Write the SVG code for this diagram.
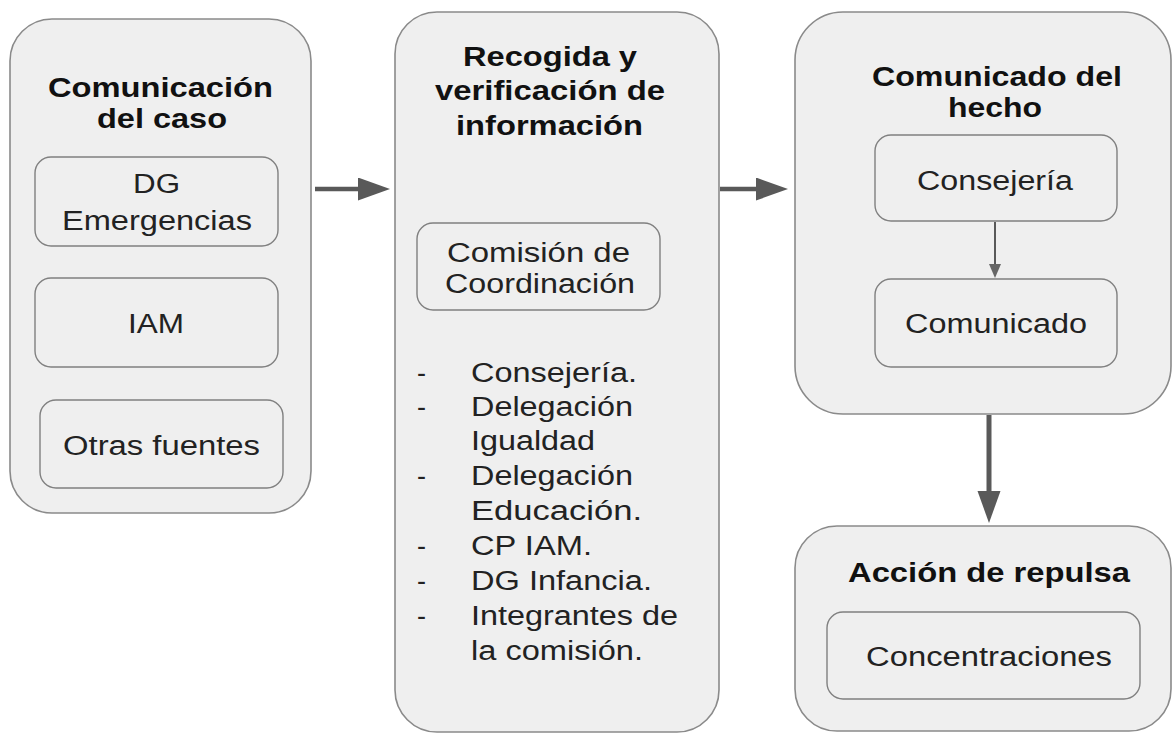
<svg xmlns="http://www.w3.org/2000/svg" width="1172" height="733" viewBox="0 0 1172 733">
<style>
.outer{fill:#efefef;stroke:#8a8a8a;stroke-width:1.6}
.inner{fill:#efefef;stroke:#808080;stroke-width:1.4}
.t{font-family:"Liberation Sans",Arial,sans-serif;font-size:27px;fill:#222}
.b{font-family:"Liberation Sans",Arial,sans-serif;font-size:27px;font-weight:bold;fill:#111}
.conn{stroke:#595959;fill:none}
</style>
<defs>
<marker id="big" markerUnits="userSpaceOnUse" markerWidth="34" markerHeight="24" refX="4" refY="11.5" orient="auto">
<path d="M0,0 L32,11.5 L0,23 z" fill="#595959"/>
</marker>
<marker id="small" markerUnits="userSpaceOnUse" markerWidth="16" markerHeight="14" refX="2" refY="6" orient="auto">
<path d="M0,0 L14,6 L0,12 z" fill="#666"/>
</marker>
</defs>
<rect width="1172" height="733" fill="#ffffff"/>

<g id="comunicacion">
<rect class="outer" x="10" y="19" width="301" height="494" rx="42"/>
<text class="b" x="48" y="97" textLength="225" lengthAdjust="spacingAndGlyphs">Comunicación</text>
<text class="b" x="97" y="128" textLength="130" lengthAdjust="spacingAndGlyphs">del caso</text>
</g>
<g id="dg-emergencias">
<rect class="inner" x="35" y="157" width="243" height="89" rx="16"/>
<text class="t" x="133" y="193" textLength="47" lengthAdjust="spacingAndGlyphs">DG</text>
<text class="t" x="62" y="230" textLength="190" lengthAdjust="spacingAndGlyphs">Emergencias</text>
</g>
<g id="iam">
<rect class="inner" x="35" y="278" width="243" height="89" rx="16"/>
<text class="t" x="128" y="333" textLength="56" lengthAdjust="spacingAndGlyphs">IAM</text>
</g>
<g id="otras-fuentes">
<rect class="inner" x="40" y="400" width="243" height="88" rx="16"/>
<text class="t" x="63" y="455" textLength="197" lengthAdjust="spacingAndGlyphs">Otras fuentes</text>
</g>

<g id="recogida">
<rect class="outer" x="395" y="12" width="324" height="720" rx="42"/>
<text class="b" x="463" y="66" textLength="174" lengthAdjust="spacingAndGlyphs">Recogida y</text>
<text class="b" x="435" y="100" textLength="230" lengthAdjust="spacingAndGlyphs">verificación de</text>
<text class="b" x="456" y="135" textLength="187" lengthAdjust="spacingAndGlyphs">información</text>
<g class="t">
<text x="417" y="382">-</text>
<text x="471" y="382" textLength="166" lengthAdjust="spacingAndGlyphs">Consejería.</text>
<text x="417" y="416">-</text>
<text x="471" y="416" textLength="162" lengthAdjust="spacingAndGlyphs">Delegación</text>
<text x="471" y="450" textLength="124" lengthAdjust="spacingAndGlyphs">Igualdad</text>
<text x="417" y="485">-</text>
<text x="471" y="485" textLength="162" lengthAdjust="spacingAndGlyphs">Delegación</text>
<text x="471" y="520" textLength="171" lengthAdjust="spacingAndGlyphs">Educación.</text>
<text x="417" y="555">-</text>
<text x="471" y="555" textLength="121" lengthAdjust="spacingAndGlyphs">CP IAM.</text>
<text x="417" y="590">-</text>
<text x="471" y="590" textLength="181" lengthAdjust="spacingAndGlyphs">DG Infancia.</text>
<text x="417" y="625">-</text>
<text x="471" y="625" textLength="207" lengthAdjust="spacingAndGlyphs">Integrantes de</text>
<text x="471" y="660" textLength="172" lengthAdjust="spacingAndGlyphs">la comisión.</text>
</g>
</g>
<g id="comision">
<rect class="inner" x="417" y="223" width="243" height="87" rx="16"/>
<text class="t" x="447" y="262" textLength="183" lengthAdjust="spacingAndGlyphs">Comisión de</text>
<text class="t" x="445" y="293" textLength="190" lengthAdjust="spacingAndGlyphs">Coordinación</text>
</g>

<g id="comunicado-hecho">
<rect class="outer" x="795" y="12" width="376" height="402" rx="48"/>
<text class="b" x="872" y="86" textLength="250" lengthAdjust="spacingAndGlyphs">Comunicado del</text>
<text class="b" x="948" y="117" textLength="94" lengthAdjust="spacingAndGlyphs">hecho</text>
</g>
<g id="consejeria">
<rect class="inner" x="875" y="135" width="242" height="86" rx="16"/>
<text class="t" x="917" y="190" textLength="156" lengthAdjust="spacingAndGlyphs">Consejería</text>
</g>
<g id="comunicado">
<rect class="inner" x="875" y="279" width="242" height="88" rx="16"/>
<text class="t" x="905" y="333" textLength="182" lengthAdjust="spacingAndGlyphs">Comunicado</text>
</g>

<g id="accion-repulsa">
<rect class="outer" x="795" y="526" width="376" height="205" rx="42"/>
<text class="b" x="848" y="582" textLength="282" lengthAdjust="spacingAndGlyphs">Acción de repulsa</text>
</g>
<g id="concentraciones">
<rect class="inner" x="827" y="612" width="313" height="87" rx="16"/>
<text class="t" x="866" y="666" textLength="246" lengthAdjust="spacingAndGlyphs">Concentraciones</text>
</g>

<g id="connectors">
<path class="conn" d="M315,189 L362,189" stroke-width="4.5" marker-end="url(#big)"/>
<path class="conn" d="M720,189 L760,189" stroke-width="4.5" marker-end="url(#big)"/>
<path class="conn" d="M989,415 L989,495" stroke-width="5" marker-end="url(#big)"/>
<path class="conn" d="M995,222 L995,266" stroke-width="2" stroke="#666" marker-end="url(#small)"/>
</g>
</svg>
